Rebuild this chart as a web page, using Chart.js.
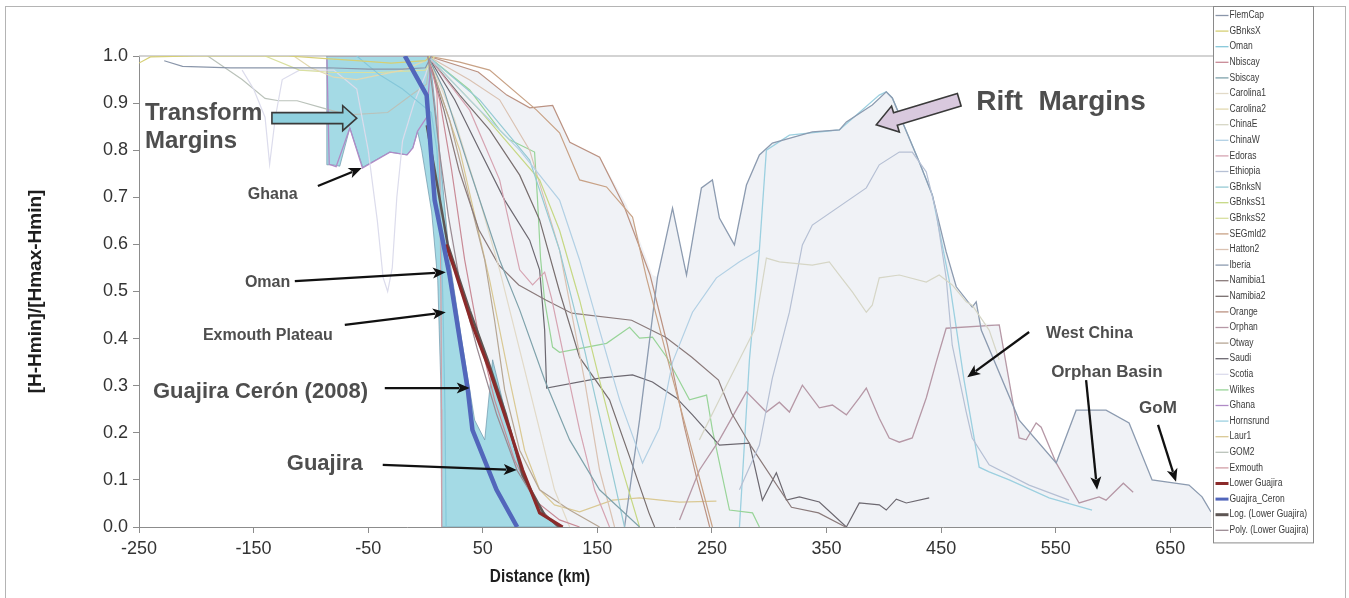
<!DOCTYPE html>
<html><head><meta charset="utf-8">
<script src="https://cdn.jsdelivr.net/npm/chart.js@4.4.1/dist/chart.umd.min.js"></script>
<style>html,body{margin:0;padding:0;background:#fff;}canvas{display:block}</style>
</head><body>
<canvas id="c" width="1349" height="598"></canvas>
<script>
// ---------- axis ticks ----------
const xTicks = [-250,-150,-50,50,150,250,350,450,550,650];
const yTicks = [0,0.1,0.2,0.3,0.4,0.5,0.6,0.7,0.8,0.9,1.0];

// ---------- series: [distance km, (H-Hmin)/(Hmax-Hmin)] ----------
const FlemCap = [[-228,0.99],[-212,0.978],[-170,0.975],[-120,0.975],[-86,0.975],[-50,0.972],[-20,0.972],[0,0.975],[5,1.0]];
const GBnksX = [[-250,0.985],[-240,0.998],[-200,1.0],[-120,1.0],[-90,0.995],[-60,0.99],[-30,0.985],[0,0.99],[4,1.0]];
const Oman = [[-60,1.0],[-40,0.96],[-20,0.93],[-5,0.9],[5,0.88],[10,0.8],[13,0.65],[15,0.5],[17,0.25],[18,0.0]];
const Nbiscay = [[2,1],[12.4,0.907],[22.8,0.758],[34.2,0.567],[45.5,0.418],[60.3,0.27],[77.7,0.142],[95.2,0.057],[117,0.015],[134.5,0]];
const Sbiscay = [[2,1],[16.1,0.928],[38.6,0.758],[64.7,0.567],[82.2,0.461],[104,0.312],[125.8,0.185],[151.9,0.079],[186.8,0]];
const Carolina1 = [[2,1],[25.5,0.864],[47.3,0.694],[64.7,0.546],[82.2,0.376],[99.6,0.206],[112.6,0.079],[125.8,0]];
const Carolina2 = [[-115,1.0],[-100,0.975],[-80,0.955],[-60,0.95],[-40,0.96],[-20,0.97],[0,0.99],[4,1.0]];
const ChinaE = [[239,0.185],[265,0.312],[287,0.418],[297.5,0.571],[308.8,0.563],[337.6,0.556],[352.4,0.563],[361.2,0.535],[372.5,0.499],[384.7,0.456],[389.9,0.471],[396,0.529],[413.5,0.535],[437,0.52],[448.3,0.535],[459.7,0.514],[471.9,0.478],[477.1,0.471],[491.9,0.418],[500.7,0.355]];
const ChinaW = [[2,1],[38.6,0.907],[82.2,0.8],[117,0.694],[134.5,0.567],[151.9,0.418],[169.4,0.27],[189.4,0.136],[204.2,0.21],[215.6,0.35],[233,0.456],[253.9,0.529],[274,0.563],[291.4,0.588]];
const Edoras = [[2,1],[38.6,0.885],[64.7,0.737],[82.2,0.546],[93.5,0.514],[104,0.541],[110,0.486],[121.4,0.355],[134.5,0.206],[147.6,0.079],[160.6,0]];
const Ethiopia = [[274,0.079],[291.4,0.174],[302.7,0.316],[317.6,0.456],[328.9,0.599],[337.6,0.641],[384.7,0.72],[396,0.769],[413.5,0.796],[424.8,0.796],[437,0.754],[445.7,0.669],[454.4,0.529],[459.7,0.386],[471.9,0.244],[477.1,0.189],[491.9,0.132],[526.8,0.089],[561.7,0.057]];
const GBnksN = [[2,1],[47.3,0.907],[90.9,0.779],[117,0.588],[138.8,0.376],[160.6,0.142],[173.7,0]];
const GBnksS1 = [[2,1],[47.3,0.885],[99.6,0.737],[117,0.63],[134.5,0.482],[151.9,0.312],[169.4,0.142],[186.8,0]];
const GBnksS2 = [[-140,1.0],[-110,0.97],[-80,0.965],[-40,0.965],[0,0.97],[8,1.0]];
const SEGmld2 = [[2,1],[29.9,0.987],[56,0.97],[97,0.885],[117,0.837],[134.5,0.737],[158,0.722],[180.7,0.658],[192.9,0.529],[215.6,0.316],[239.1,0.104],[250.4,0]];
const Hatton2 = [[2,1],[38.6,0.949],[64.7,0.907],[90.9,0.8],[117,0.588],[138.8,0.312],[151.9,0.121],[165,0]];
const Iberia = [[173.7,0],[186.8,0.227],[202.5,0.531],[215.6,0.677],[227.8,0.535],[240.8,0.72],[250.4,0.737],[256.5,0.656],[269.6,0.599],[280.1,0.726],[291.4,0.79],[302.7,0.815],[337.6,0.839],[361.2,0.843],[367.3,0.86],[389.9,0.896],[402.1,0.924],[407.4,0.911],[430.9,0.775],[442.3,0.705],[454.4,0.584],[463.2,0.51],[477.1,0.467],[480.6,0.478],[485,0.418],[518.1,0.227],[550.4,0.136],[567.8,0.248],[593.9,0.248],[614,0.221],[634.1,0.1],[646.3,0.096],[666.3,0.089],[677.7,0.064],[685.5,0.032]];
const Namibia1 = [[2,1],[16.1,0.885],[29.2,0.758],[46.6,0.631],[64,0.556],[81.4,0.514],[105,0.482],[127.6,0.454],[179.9,0.439],[209.6,0.403],[232.2,0.361],[255.7,0.312],[267.1,0.242],[284.5,0.17],[319.4,0.042],[343,0.03],[366.6,0]];
const Namibia2 = [[2,1],[29.9,0.917],[56,0.843],[82.2,0.747],[99.6,0.652],[117,0.5],[134.5,0.36],[160.6,0.27],[178,0.15],[195,0.03],[200,0]];
const Orange = [[2,1],[46,0.966],[71,0.917],[91,0.89],[111,0.895],[126,0.817],[152,0.785],[173,0.683],[196,0.535],[211,0.388],[226,0.212],[237,0.1],[243,0.047],[248,0]];
const Orphan = [[221.7,0.015],[239.1,0.121],[256.5,0.185],[280.1,0.287],[297.5,0.244],[308.8,0.265],[317.6,0.244],[328.9,0.301],[343.7,0.253],[355.1,0.259],[367.3,0.238],[378.6,0.274],[384.7,0.295],[396,0.231],[404.7,0.189],[413.5,0.18],[424.8,0.189],[437,0.274],[445.7,0.35],[454.4,0.422],[500.7,0.429],[518.1,0.189],[524.2,0.185],[532.9,0.221],[537.3,0.212],[550.4,0.136],[570.4,0.051],[587.8,0.064],[593.9,0.057],[609,0.093],[617.6,0.074]];
const Otway = [[2,1],[21.1,0.864],[38.6,0.694],[51.7,0.567],[60.3,0.439],[69.1,0.291],[82.2,0.163],[99.6,0.079],[125.8,0.036],[151.9,0]];
const Saudi = [[2,1],[25.5,0.907],[47.3,0.8],[69.1,0.694],[90.9,0.609],[99.6,0.546],[104,0.418],[105.7,0.295],[151.9,0.316],[180.7,0.323],[198.1,0.308],[219,0.274],[233,0.238],[256.5,0.174],[282.7,0.178],[294,0.057],[306.2,0.115],[315,0.057],[326.3,0.064],[343.7,0.053],[367.3,0],[378.6,0.051],[396,0.047],[402.1,0.036],[410.9,0.059],[419.6,0.051],[439.6,0.062]];
const Scotia = [[-160,0.97],[-150,0.93],[-140,0.87],[-136,0.77],[-131,0.87],[-125,0.95],[-110,0.97],[-80,0.97],[-60,0.93],[-50,0.8],[-42,0.65],[-37,0.53],[-33,0.5],[-29,0.55],[-25,0.7],[-20,0.82],[-10,0.9],[0,0.96],[5,1.0]];
const Wilkes = [[2,1],[38.6,0.928],[64.7,0.843],[73.5,0.822],[95.2,0.796],[97.8,0.694],[100.4,0.571],[103.9,0.482],[110.9,0.382],[117,0.371],[158,0.39],[178.1,0.424],[186.8,0.401],[198.1,0.403],[210.4,0.361],[230.4,0.27],[245.3,0.28],[250.4,0.206],[265.3,0.036],[285.4,0.03],[291.4,0]];
const Ghana = [[-86,0.995],[-84,0.77],[-78,0.765],[-66,0.847],[-55,0.762],[-31,0.796],[-16,0.79],[-11,0.805],[-7,0.84],[1,0.87],[5,1.0]];
const Hornsrund = [[274,0],[282.7,0.355],[291.4,0.588],[297.5,0.8],[317.6,0.832],[361.2,0.843],[396,0.917],[402.1,0.924],[407.4,0.911],[430.9,0.775],[442.3,0.705],[457,0.524],[470,0.312],[483.2,0.127],[491.9,0.117],[509.4,0.1],[544.2,0.062],[581.7,0.036]];
const Laur1 = [[2,1],[29.9,0.8],[56,0.524],[73.5,0.312],[86.5,0.163],[99.6,0.079],[112.6,0.047],[134.5,0.032],[163.2,0.057],[186.8,0.062],[221.7,0.053],[253.9,0.055]];
const GOM2 = [[-190,1.0],[-160,0.95],[-140,0.91],[-128,0.905],[-112,0.905],[-90,0.89],[-68,0.875],[-33,0.88],[-11,0.92],[1,0.94],[4,1.0]];
const Exmouth = [[-86,1.0],[-40,1.0],[5,1.0],[10,0.92],[12.5,0.75],[13.5,0.5],[14,0.25],[14.2,0]];
const LowerGuajira = [[18,0.6],[25.5,0.546],[40.3,0.433],[56,0.333],[73.5,0.206],[84.8,0.121],[99.6,0.03],[119.7,0]];
const GuajiraCeron = [[-18,1.0],[1,0.917],[8,0.694],[21,0.535],[37,0.29],[41,0.206],[62,0.079],[80,0]];
const LogLowerGuajira = [[1.1,0.853],[19.4,0.6],[38.6,0.46],[54.3,0.355],[70,0.24],[84.8,0.11],[104,0.025],[117,0]];
const PolyLowerGuajira = [[2,1],[6,0.93],[12,0.8],[20,0.66],[30,0.52],[45,0.38],[62,0.24],[80,0.12],[100,0.04],[115,0]];

// shaded envelopes
const transformArea = [[-86.1,1.0],[3.7,1.0],[9.8,0.864],[21.1,0.567],[31.6,0.397],[42.9,0.227],[51.7,0.185],[58.6,0.355],[73.5,0.206],[84.8,0.121],[99.6,0.036],[117,0],[14.2,0],[13.3,0.312],[10.7,0.524],[5.4,0.669],[-3.3,0.8],[-6.8,0.839],[-11.1,0.805],[-16.3,0.79],[-31.2,0.796],[-54.7,0.764],[-66,0.847],[-74.8,0.766],[-80.9,0.769],[-86.1,0.769],[-86.1,1.0]];
const riftArea = [[3.7,1.0],[45.5,0.966],[70.8,0.917],[90.9,0.89],[110.9,0.896],[125.8,0.817],[151.9,0.786],[175.5,0.684],[198.1,0.535],[202.5,0.531],[215.6,0.677],[227.8,0.535],[240.8,0.72],[250.4,0.737],[256.5,0.656],[269.6,0.599],[280.1,0.726],[291.4,0.79],[302.7,0.815],[337.6,0.839],[361.2,0.843],[367.3,0.86],[389.9,0.896],[402.1,0.924],[407.4,0.911],[430.9,0.775],[442.3,0.705],[454.4,0.584],[463.2,0.51],[477.1,0.467],[480.6,0.478],[485,0.433],[500.7,0.429],[514.6,0.238],[550.4,0.136],[567.8,0.248],[593.9,0.248],[614,0.221],[634.1,0.1],[646.3,0.096],[666.3,0.089],[677.7,0.064],[685.5,0.032],[685.5,0],[119.7,0],[99.6,0.03],[84.8,0.121],[73.5,0.206],[56,0.333],[40.3,0.433],[22.8,0.588],[12.4,0.8],[3.7,1.0]];

// ---------- styling table (label, data, colour, width, draw order) ----------
const seriesStyle = [
  ['FlemCap', FlemCap, '#8a96aa', 1.2, 20],
  ['GBnksX', GBnksX, '#d6cf74', 1.2, 20],
  ['Oman', Oman, '#86c8da', 1.2, 20],
  ['Nbiscay', Nbiscay, '#c98a96', 1.2, 20],
  ['Sbiscay', Sbiscay, '#7fa2ab', 1.2, 20],
  ['Carolina1', Carolina1, '#e2dac8', 1.2, 20],
  ['Carolina2', Carolina2, '#e2d9b0', 1.2, 20],
  ['ChinaE', ChinaE, '#d6d6c6', 1.2, 20],
  ['ChinaW', ChinaW, '#b2d0e4', 1.2, 20],
  ['Edoras', Edoras, '#d6a4b2', 1.2, 20],
  ['Ethiopia', Ethiopia, '#b6c0d4', 1.2, 20],
  ['GBnksN', GBnksN, '#96cad4', 1.2, 20],
  ['GBnksS1', GBnksS1, '#c6d884', 1.2, 20],
  ['GBnksS2', GBnksS2, '#d9e0a0', 1.2, 20],
  ['SEGmld2', SEGmld2, '#c8a286', 1.2, 20],
  ['Hatton2', Hatton2, '#dac2b2', 1.2, 20],
  ['Iberia', Iberia, '#8c9bb0', 1.3, 20],
  ['Namibia1', Namibia1, '#8a7a7a', 1.2, 20],
  ['Namibia2', Namibia2, '#786e6e', 1.2, 20],
  ['Orange', Orange, '#bb9282', 1.2, 20],
  ['Orphan', Orphan, '#b698a6', 1.3, 20],
  ['Otway', Otway, '#b6a694', 1.2, 20],
  ['Saudi', Saudi, '#6c6870', 1.2, 20],
  ['Scotia', Scotia, '#dcdcec', 1.2, 20],
  ['Wilkes', Wilkes, '#98d498', 1.2, 20],
  ['Ghana', Ghana, '#b08ac6', 1.3, 20],
  ['Hornsrund', Hornsrund, '#9cd0e0', 1.3, 20],
  ['Laur1', Laur1, '#dac994', 1.2, 20],
  ['GOM2', GOM2, '#bac2ba', 1.2, 20],
  ['Exmouth', Exmouth, '#d29ea6', 1.2, 20],
  ['Lower Guajira', LowerGuajira, '#8b2a2a', 3.2, 3],
  ['Guajira_Ceron', GuajiraCeron, '#5266bb', 4.5, 2],
  ['Log. (Lower Guajira)', LogLowerGuajira, '#5e5654', 2.5, 4],
  ['Poly. (Lower Guajira)', PolyLowerGuajira, '#9a8a92', 1.2, 5]
];

const datasets = seriesStyle.map(([label, pts, color, width, order]) => ({
  label, data: pts.map(([x, y]) => ({x, y})), borderColor: color, backgroundColor: color,
  borderWidth: width, showLine: true, pointRadius: 0, fill: false, tension: 0, order, inLegend: true
}));
datasets.push({
  label: 'Rift margins envelope', data: riftArea.map(([x, y]) => ({x, y})), showLine: true, pointRadius: 0,
  fill: 'shape', backgroundColor: 'rgba(212,216,228,0.34)', borderColor: 'rgba(0,0,0,0)', borderWidth: 0, order: 100, inLegend: false
});
datasets.push({
  label: 'Transform margins envelope', data: transformArea.map(([x, y]) => ({x, y})), showLine: true, pointRadius: 0,
  fill: 'shape', backgroundColor: 'rgba(80,185,205,0.52)', borderColor: 'rgba(110,150,170,0.7)', borderWidth: 1, order: 90, inLegend: false
});

// ---------- annotations (data coordinates) ----------
const notes = [
  {t: 'Transform', x: -244.8, y: 0.864, size: 24},
  {t: 'Margins', x: -244.8, y: 0.805, size: 24},
  {t: 'Ghana', x: -155, y: 0.696, size: 16},
  {t: 'Oman', x: -157.6, y: 0.51, size: 16},
  {t: 'Exmouth Plateau', x: -194.2, y: 0.397, size: 16},
  {t: 'Guajira Cerón (2008)', x: -237.8, y: 0.274, size: 22},
  {t: 'Guajira', x: -121, y: 0.121, size: 22},
  {t: 'Rift  Margins', x: 480.6, y: 0.885, size: 28},
  {t: 'West China', x: 541.6, y: 0.401, size: 16},
  {t: 'Orphan Basin', x: 546, y: 0.318, size: 17},
  {t: 'GoM', x: 622.7, y: 0.242, size: 17}
];
const arrows = [
  [-93.9, 0.724, -55.6, 0.762],
  [-114, 0.522, 17.7, 0.541],
  [-70.4, 0.429, 17.7, 0.456],
  [-35.5, 0.295, 38.6, 0.295],
  [-37.3, 0.132, 79.6, 0.121],
  [526.8, 0.414, 472.8, 0.318],
  [576.5, 0.312, 586.1, 0.079],
  [639.3, 0.217, 655, 0.096]
];
const blockArrows = [
  {x1: -134, y1: 0.868, x2: -60, y2: 0.868, body: 11, head: 25, headL: 14, fill: '#8fd0de'},
  {x1: 465.8, y1: 0.907, x2: 393.4, y2: 0.854, body: 13, head: 27, headL: 20, fill: '#d9c9de'}
];

function drawArrow(ctx, x1, y1, x2, y2) {
  const a = Math.atan2(y2 - y1, x2 - x1), L = 13, W = 5.5;
  ctx.save();
  ctx.strokeStyle = '#111'; ctx.fillStyle = '#111'; ctx.lineWidth = 2.3;
  ctx.beginPath(); ctx.moveTo(x1, y1);
  ctx.lineTo(x2 - Math.cos(a) * L * 0.8, y2 - Math.sin(a) * L * 0.8); ctx.stroke();
  ctx.translate(x2, y2); ctx.rotate(a);
  ctx.beginPath(); ctx.moveTo(0, 0); ctx.lineTo(-L, -W); ctx.lineTo(-L * 0.75, 0); ctx.lineTo(-L, W); ctx.closePath(); ctx.fill();
  ctx.restore();
}
function drawBlock(ctx, x1, y1, x2, y2, bw, hw, hl, fill) {
  const a = Math.atan2(y2 - y1, x2 - x1), len = Math.hypot(x2 - x1, y2 - y1);
  ctx.save(); ctx.translate(x1, y1); ctx.rotate(a);
  ctx.beginPath();
  ctx.moveTo(0, -bw / 2); ctx.lineTo(len - hl, -bw / 2); ctx.lineTo(len - hl, -hw / 2); ctx.lineTo(len, 0);
  ctx.lineTo(len - hl, hw / 2); ctx.lineTo(len - hl, bw / 2); ctx.lineTo(0, bw / 2); ctx.closePath();
  ctx.fillStyle = fill; ctx.fill(); ctx.lineWidth = 1.6; ctx.strokeStyle = '#3a3a3a'; ctx.stroke();
  ctx.restore();
}

const decor = {
  id: 'decor',
  beforeDatasetsDraw(chart) {
    const {ctx, chartArea: ca} = chart;
    ctx.save();
    ctx.strokeStyle = '#c4c4c4'; ctx.lineWidth = 1.5;
    ctx.beginPath(); ctx.moveTo(ca.left, ca.top); ctx.lineTo(ca.right + 2, ca.top); ctx.stroke();
    ctx.restore();
  },
  afterDatasetsDraw(chart) {
    const {ctx, scales: {x, y}} = chart;
    const X = v => x.getPixelForValue(v), Y = v => y.getPixelForValue(v);
    blockArrows.forEach(b => drawBlock(ctx, X(b.x1), Y(b.y1), X(b.x2), Y(b.y2), b.body, b.head, b.headL, b.fill));
    arrows.forEach(a => drawArrow(ctx, X(a[0]), Y(a[1]), X(a[2]), Y(a[3])));
    ctx.save();
    ctx.fillStyle = '#4e4e4e'; ctx.textAlign = 'left'; ctx.textBaseline = 'alphabetic';
    notes.forEach(n => {
      ctx.font = 'bold ' + n.size + 'px "Liberation Sans", Arial, sans-serif';
      ctx.fillText(n.t, X(n.x), Y(n.y));
    });
    ctx.restore();
  },
  afterDraw(chart) {
    const {ctx, chartArea: ca} = chart;
    ctx.save();
    // outer frame
    ctx.strokeStyle = '#b4b4b4'; ctx.lineWidth = 1;
    ctx.strokeRect(5.5, 6.5, 1340, 600);
    // axis titles
    ctx.fillStyle = '#1e1e1e';
    ctx.font = 'bold 18px "Liberation Sans", Arial, sans-serif';
    ctx.textAlign = 'center'; ctx.textBaseline = 'middle';
    ctx.save(); ctx.translate(540, 577); ctx.scale(0.85, 1); ctx.fillText('Distance (km)', 0, 0); ctx.restore();
    ctx.save(); ctx.translate(36, (ca.top + ca.bottom) / 2); ctx.rotate(-Math.PI / 2);
    ctx.font = 'bold 19px "Liberation Sans", Arial, sans-serif';
    ctx.fillText('[H-Hmin]/[Hmax-Hmin]', 0, 0); ctx.restore();
    // legend
    const items = chart.data.datasets.filter(d => d.inLegend);
    const lx = 1213.5, ly = 6.5, lw = 100, step = 15.6;
    const lh = items.length * step + 6;
    ctx.fillStyle = '#ffffff'; ctx.fillRect(lx, ly, lw, lh);
    ctx.strokeStyle = '#8a8a8a'; ctx.lineWidth = 1; ctx.strokeRect(lx, ly, lw, lh);
    ctx.textAlign = 'left'; ctx.textBaseline = 'middle';
    items.forEach((d, i) => {
      const yy = ly + 9 + i * step;
      ctx.strokeStyle = d.borderColor; ctx.lineWidth = d.borderWidth > 2 ? 3 : 1.3;
      ctx.beginPath(); ctx.moveTo(lx + 2, yy); ctx.lineTo(lx + 15, yy); ctx.stroke();
      ctx.fillStyle = '#3a3a3a';
      ctx.font = '10px "Liberation Sans", Arial, sans-serif';
      ctx.save(); ctx.translate(lx + 16, yy); ctx.scale(0.85, 1); ctx.fillText(d.label, 0, 0); ctx.restore();
    });
    ctx.restore();
  }
};

new Chart(document.getElementById('c'), {
  type: 'scatter',
  data: {datasets},
  options: {
    responsive: false, animation: false,
    layout: {padding: {left: 0, right: 138, top: 56, bottom: 0}},
    plugins: {legend: {display: false}, tooltip: {enabled: false}},
    scales: {
      x: {
        type: 'linear', min: -250, max: 685.5,
        afterBuildTicks: s => { s.ticks = xTicks.map(v => ({value: v})); },
        afterFit: s => { s.height = 71; },
        grid: {drawOnChartArea: false, drawTicks: true, tickLength: 6, color: '#8c8c8c'},
        border: {display: true, color: '#8c8c8c', width: 1},
        ticks: {font: {family: 'Liberation Sans', size: 18}, color: '#333', padding: 5, maxRotation: 0, autoSkip: false, callback: v => String(v)}
      },
      y: {
        type: 'linear', min: 0, max: 1,
        afterBuildTicks: s => { s.ticks = yTicks.map(v => ({value: v})); },
        afterFit: s => { s.width = 139; },
        grid: {drawOnChartArea: false, drawTicks: true, tickLength: 6, color: '#8c8c8c'},
        border: {display: true, color: '#8c8c8c', width: 1},
        ticks: {font: {family: 'Liberation Sans', size: 18}, color: '#333', padding: 5, autoSkip: false, callback: v => Number(v).toFixed(1)}
      }
    }
  },
  plugins: [decor]
});
</script>
</body></html>
